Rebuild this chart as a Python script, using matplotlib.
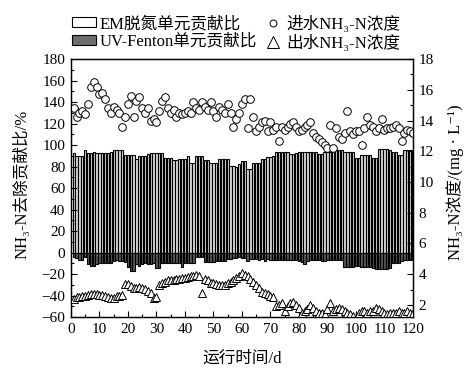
import matplotlib
matplotlib.use('Agg')
import matplotlib.pyplot as plt
from matplotlib.patches import Patch
from matplotlib.lines import Line2D
from matplotlib.ticker import MultipleLocator

plt.rcParams['font.family'] = ['Liberation Serif', 'Noto Sans CJK SC', 'DejaVu Serif']

days = list(range(1, 121))

# EM脱氮单元贡献比 (%)
em_ratio = [93, 90, 90, 90, 95, 93, 93, 94, 93, 93,
            93, 93, 93, 94, 95, 95, 95, 95, 91, 91,
            91, 91, 87, 90, 90, 90, 92, 93, 93, 93,
            93, 93, 88, 88, 88, 86, 86, 87, 87, 87,
            90, 83, 83, 90, 90, 90, 86, 86, 83, 83,
            83, 87, 87, 87, 87, 81, 81, 80, 82, 85,
            85, 78, 78, 83, 83, 83, 87, 87, 89, 89,
            90, 94, 94, 94, 94, 94, 92, 92, 93, 94,
            94, 94, 94, 94, 94, 94, 92, 92, 94, 94,
            94, 95, 95, 95, 95, 94, 94, 94, 94, 88,
            88, 91, 91, 91, 91, 88, 88, 96, 96, 96,
            96, 95, 94, 94, 91, 91, 95, 95, 95, 95]

# UV-Fenton单元贡献比 (%), drawn below zero
uv_ratio = [-4, -5, -7, -7, -4, -11, -12, -12, -11, -10,
            -10, -10, -10, -10, -8, -7, -8, -8, -9, -13,
            -17, -17, -11, -12, -11, -10, -11, -11, -10, -14,
            -14, -10, -10, -10, -10, -10, -10, -10, -13, -10,
            -10, -10, -10, -4, -4, -4, -9, -9, -9, -9,
            -8, -8, -8, -8, -6, -6, -5, -5, -4, -5,
            -5, -8, -6, -6, -6, -7, -6, -8, -6, -7,
            -7, -7, -7, -7, -7, -7, -7, -7, -7, -8,
            -9, -11, -8, -7, -7, -7, -7, -8, -8, -7,
            -7, -7, -7, -7, -7, -13, -13, -13, -13, -12,
            -12, -13, -13, -13, -13, -14, -15, -15, -15, -15,
            -15, -14, -10, -10, -10, -8, -7, -7, -7, -7]

# 进水NH3-N浓度 (mg/L)
nh3_in = [14.8, 14.2, 14.5, 14.6, 14.4, 15.1, 16.2, 16.5, 16.2, 15.7,
          15.8, 15.4, 14.8, 14.5, 14.9, 14.7, 14.5, 13.6, 14.2, 15.1,
          15.6, 14.2, 15.3, 15.5, 14.8, 14.5, 14.8, 14.0, 14.1, 13.9,
          14.6, 15.3, 15.5, 14.8, 14.5, 14.7, 14.2, 14.5, 14.4, 14.5,
          14.6, 14.5, 15.2, 14.8, 14.7, 15.2, 14.9, 14.7, 15.2, 14.6,
          14.2, 14.9, 14.7, 14.5, 15.1, 14.5, 13.6, 14.1, 14.5, 15.1,
          15.4, 13.5, 15.4, 14.2, 13.3, 13.6, 13.9, 14.0, 13.3, 13.9,
          13.4, 13.6, 12.7, 13.6, 13.4, 13.6, 13.8, 13.9, 13.6, 13.3,
          13.4, 13.6, 13.7, 13.9, 13.2, 12.9, 12.8, 12.6, 12.4, 12.2,
          13.7, 12.2, 13.5, 12.9, 12.8, 13.2, 14.6, 13.3, 13.1, 13.3,
          13.3, 12.4, 13.5, 14.2, 13.7, 13.6, 13.3, 13.5, 14.1, 13.4,
          13.5, 13.5, 13.6, 13.7, 13.5, 12.7, 13.2, 13.4, 13.3, 13.2]

# 出水NH3-N浓度 (mg/L)
nh3_out = [2.4, 2.5, 2.5, 2.6, 2.6, 2.65, 2.7, 2.7, 2.7, 2.65,
           2.65, 2.6, 2.5, 2.45, 2.45, 2.55, 2.6, 2.65, 3.35, 3.35,
           3.25, 3.1, 3.1, 3.15, 3.1, 3.05, 2.9, 2.75, 2.45, 2.5,
           3.3, 3.4, 3.5, 3.65, 3.65, 3.65, 3.7, 3.7, 3.75, 3.75,
           3.8, 3.85, 3.9, 3.95, 3.9, 2.8, 3.7, 3.6, 3.45, 3.4,
           3.35, 3.3, 3.3, 3.3, 3.4, 3.5, 3.6, 3.75, 3.9, 4.05,
           3.95, 3.85, 3.7, 3.5, 3.3, 3.1, 2.85, 2.75, 2.7, 2.6,
           2.5, 1.9, 2.0, 2.1, 1.6, 1.9, 2.1, 2.2, 2.0, 1.8,
           1.5, 1.6, 1.7, 2.0, 1.8, 1.6, 1.5, 1.5, 1.4, 1.7,
           2.1, 1.6, 1.7, 1.8, 1.7, 1.6, 1.5, 1.4, 1.3, 1.15,
           1.5, 1.6, 1.6, 1.5, 1.6, 1.6, 1.8, 1.7, 1.6, 1.5,
           1.4, 1.5, 1.5, 1.5, 1.6, 1.5, 1.5, 1.6, 1.5, 1.5]

fig = plt.figure(figsize=(4.76, 3.74), dpi=100)
ax = fig.add_axes([0.149, 0.152, 0.7185, 0.69])
ax2 = ax.twinx()

ax.bar(days, em_ratio, width=0.8, color='#d8d8d8', edgecolor='black', linewidth=0.8)
ax.bar(days, uv_ratio, width=0.8, color='#555555', edgecolor='black', linewidth=0.8)

ax2.plot(days, nh3_in, 'o', ls='none', mfc='white', mec='black', ms=5.5, mew=0.7)
ax2.plot(days, nh3_out, '^', ls='none', mfc='white', mec='black', ms=6, mew=0.7)

ax.set_xlim(0, 120)
ax.set_ylim(-60, 180)
ax2.set_ylim(1.2, 18)

ax.xaxis.set_major_locator(MultipleLocator(10))
ax.xaxis.set_minor_locator(MultipleLocator(5))
ax.yaxis.set_major_locator(MultipleLocator(20))
ax.yaxis.set_minor_locator(MultipleLocator(10))
ax2.yaxis.set_major_locator(MultipleLocator(2))
ax2.yaxis.set_minor_locator(MultipleLocator(1))

ax.tick_params(which='both', direction='in', labelsize=11, width=0.8, right=False, top=False)
ax.tick_params(which='major', length=4, pad=4)
ax.tick_params(which='minor', length=2)
ax2.tick_params(which='both', direction='in', labelsize=11, width=0.8)
ax2.tick_params(which='major', length=4, pad=4)
ax2.tick_params(which='minor', length=2)
for sp in ax.spines.values():
    sp.set_linewidth(1)

fig.text(242 / 476, 1 - 359 / 374, '运行时间/d', fontsize=12, ha='center', va='center')
fig.text(22 / 476, 1 - 184 / 374, 'NH₃-N去除贡献比/%', fontsize=12,
         rotation=90, ha='center', va='center')
fig.text(455 / 476, 1 - 182 / 374, 'NH₃-N浓度/(mg · L⁻¹)', fontsize=12,
         rotation=90, ha='center', va='center')

h1 = [Patch(facecolor='white', edgecolor='black', linewidth=0.8),
      Patch(facecolor='#6e6e6e', edgecolor='black', linewidth=0.8)]
fig.legend(h1, ['EM脱氮单元贡献比', 'UV-Fenton单元贡献比'],
           loc='upper left', bbox_to_anchor=(72 / 476, 1 - 16 / 374),
           frameon=False, fontsize=12, borderpad=0, borderaxespad=0,
           handlelength=1.45, handleheight=0.6, handletextpad=0.2,
           labelspacing=0.1)
h2 = [Line2D([], [], marker='o', ls='none', mfc='white', mec='black', ms=5, mew=0.7),
      Line2D([], [], marker='^', ls='none', mfc='white', mec='black', ms=8, mew=0.7)]
fig.legend(h2, ['进水NH₃-N浓度', '出水NH₃-N浓度'],
           loc='upper left', bbox_to_anchor=(266 / 476, 1 - 16 / 374),
           frameon=False, fontsize=12, borderpad=0, borderaxespad=0,
           handlelength=0.8, handletextpad=0.4, labelspacing=0.1)

fig.savefig('out.png', dpi=100)
